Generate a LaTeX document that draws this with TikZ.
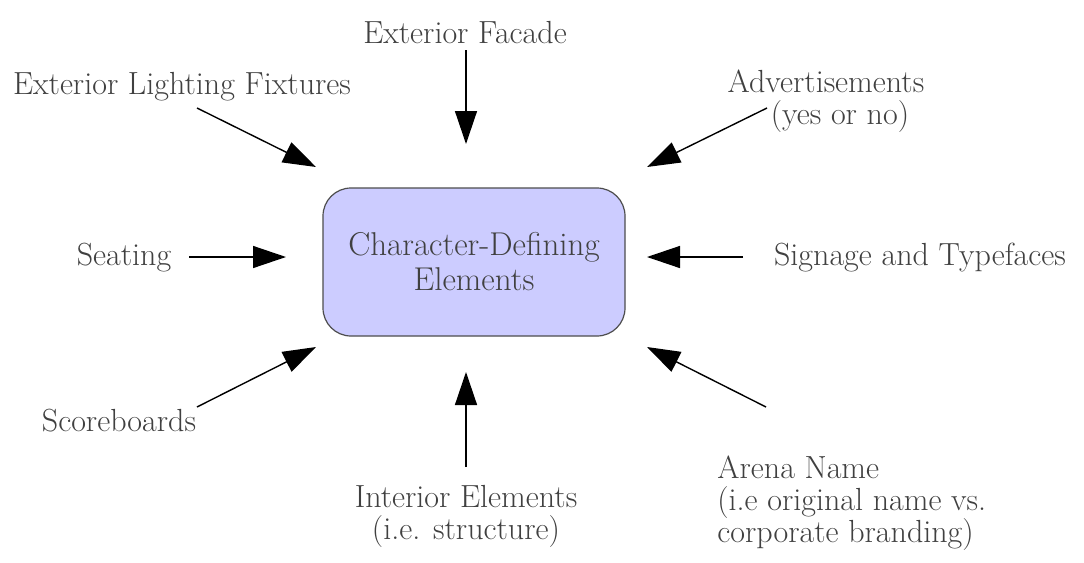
\documentclass[tikz,border=0pt]{standalone}
\usetikzlibrary{arrows.meta}
\definecolor{txt}{HTML}{404040}
\definecolor{boxfill}{HTML}{CCCCFF}
\definecolor{boxline}{HTML}{4D4D4D}
\tikzset{
  lbl/.style={text=txt, font=\fontsize{16}{17}\selectfont, inner sep=0pt},
  centerbox/.style={draw=boxline, line width=0.6pt, fill=boxfill, rounded corners=14pt,
    minimum width=151pt, minimum height=74pt, align=center, text=txt,
    font=\fontsize{16.5}{17.5}\selectfont},
  arr/.style={-{Triangle[length=16.5pt,width=11pt]}, line width=0.7pt, black}
}
\begin{document}
\begin{tikzpicture}[x=0.5pt,y=-0.5pt]
\useasboundingbox (0,0) rectangle (1084,563);
\node[centerbox] (c) at (474,262) {Character-Defining\\Elements};

\node[lbl] (facade) at (465,33) {Exterior Facade};
\node[lbl] (light) at (182,87) {Exterior Lighting Fixtures};
\node[lbl, align=center] (adv) at (826,101) {Advertisements\\[-1pt]\hspace*{14pt}(yes or no)};
\node[lbl] (seat) at (124,258) {Seating};
\node[lbl] (sign) at (920,258) {Signage and Typefaces};
\node[lbl] (score) at (119,421) {Scoreboards};
\node[lbl, align=center] (inter) at (466,516) {Interior Elements\\[-1pt](i.e. structure)};
\node[lbl, align=left, anchor=north west] (arena) at (717,455) {Arena Name\\[-1pt](i.e original name vs.\\[-1pt]corporate branding)};

\coordinate (s1) at (466,50);  \coordinate (t1) at (466,144);
\coordinate (s2) at (197,108); \coordinate (t2) at (316,167);
\coordinate (s3) at (767,108); \coordinate (t3) at (647,167);
\coordinate (s4) at (189,257); \coordinate (t4) at (286,257);
\coordinate (s5) at (743,257); \coordinate (t5) at (647,257);
\coordinate (s6) at (197,407); \coordinate (t6) at (316,347);
\coordinate (s7) at (466,467); \coordinate (t7) at (466,372);
\coordinate (s8) at (766,407); \coordinate (t8) at (647,347);

\draw[arr] (s1) -- (t1);
\draw[arr] (s2) -- (t2);
\draw[arr] (s3) -- (t3);
\draw[arr] (s4) -- (t4);
\draw[arr] (s5) -- (t5);
\draw[arr] (s6) -- (t6);
\draw[arr] (s7) -- (t7);
\draw[arr] (s8) -- (t8);
\end{tikzpicture}
\end{document}
